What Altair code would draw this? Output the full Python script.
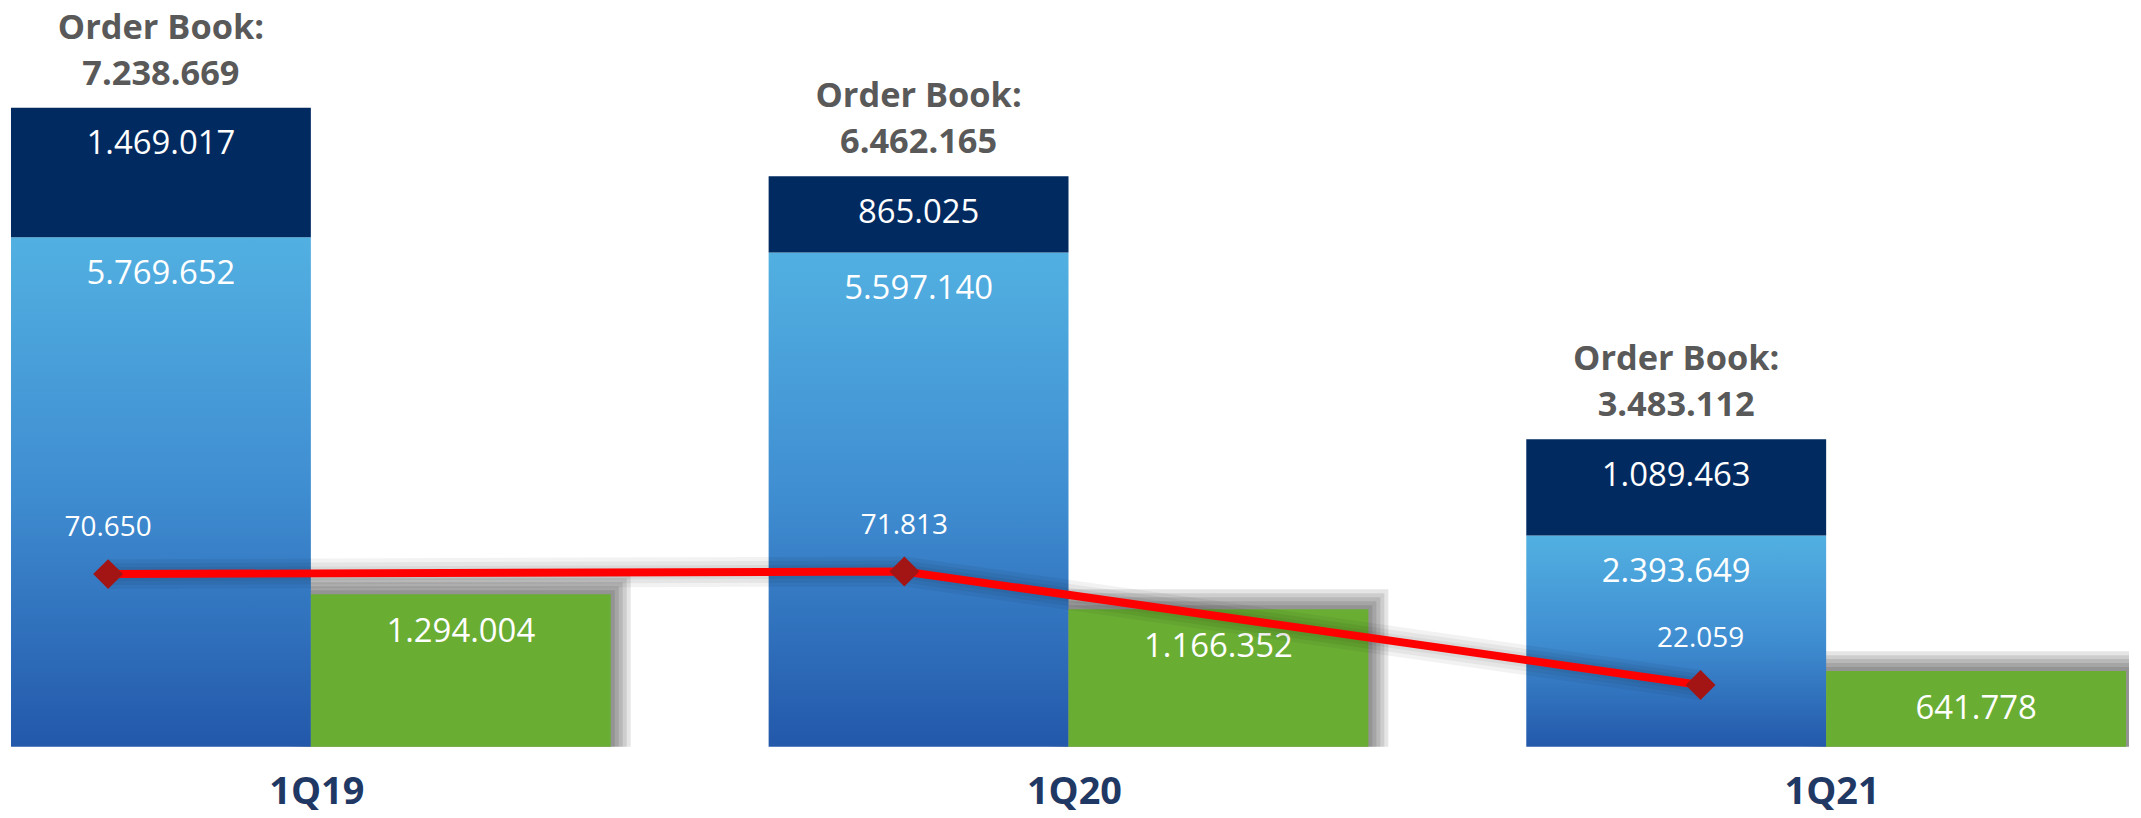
import altair as alt
import pandas as pd

# ---- data ----
quarters = ["1Q19", "1Q20", "1Q21"]
light_vals = [5769652, 5597140, 2393649]   # light-blue (bottom) part of the order book
navy_vals = [1469017, 865025, 1089463]     # navy (top) part of the order book
green_vals = [1294004, 1166352, 641778]    # green bars
line_vals = [70650, 71813, 22059]          # red line (secondary scale)


def fmt(v):
    return f"{v:,}".replace(",", ".")


df = pd.DataFrame({
    "quarter": quarters,
    "light": light_vals,
    "navy": navy_vals,
    "green": green_vals,
    "line": line_vals,
})
df["total"] = df["light"] + df["navy"]
df["light_lbl"] = df["light"].map(fmt)
df["navy_lbl"] = df["navy"].map(fmt)
df["green_lbl"] = df["green"].map(fmt)
df["line_lbl"] = df["line"].map(fmt)
df["ob_lbl"] = df["total"].map(lambda v: "Order Book:\n" + fmt(v))

FONT = "Open Sans"
W, H = 2129, 740

x_scale = alt.Scale(domain=quarters, paddingInner=0.2084, paddingOuter=0.00394)
off_scale = alt.Scale(domain=["book", "green"], paddingInner=0, paddingOuter=0)
book_y = alt.Scale(domain=[0, 8350160], nice=False, zero=False)
green_y = alt.Scale(domain=[0, 6253000], nice=False, zero=False)
line_y = alt.Scale(domain=[-5008, 318066], nice=False, zero=False)
line_x = alt.Scale(type="point", domain=quarters, padding=0.3319, align=0.1894)

x_axis = alt.Axis(title=None, labelFont=FONT, labelFontSize=38, labelFontWeight="bold",
                  labelColor="#1F3864", labelAngle=0, ticks=False, tickSize=0, domain=False,
                  grid=False, labelPadding=57, labelBaseline="alphabetic", labelOffset=6)


def X(axis=None):
    return alt.X("quarter:N", scale=x_scale, axis=axis)


base = alt.Chart(df)
book = base.transform_calculate(slot="'book'")
grn = base.transform_calculate(slot="'green'")
XO = alt.XOffset("slot:N", scale=off_scale)

light_grad = alt.Gradient(
    gradient="linear",
    stops=[alt.GradientStop(color="#52B0E1", offset=0),
           alt.GradientStop(color="#3F8DD1", offset=0.5),
           alt.GradientStop(color="#2358AA", offset=1)],
    x1=0, x2=0, y1=0, y2=1,
)

# soft shadow around the green bars
shadows = [
    grn.mark_bar(fill="#000000", fillOpacity=0.0, stroke="#000000", strokeOpacity=0.1,
                 strokeWidth=sw, clip=True).encode(
        x=X(), xOffset=XO, y=alt.Y("green:Q", scale=green_y, axis=None))
    for sw in [8, 16, 24, 32, 40]
]

light_bar = book.mark_bar(color=light_grad).encode(
    x=X(x_axis), xOffset=XO, y=alt.Y("light:Q", scale=book_y, axis=None))
navy_bar = book.mark_bar(color="#012A61").encode(
    x=X(), xOffset=XO, y=alt.Y("total:Q", scale=book_y, axis=None), y2=alt.Y2("light:Q"))
green_bar = grn.mark_bar(color="#6AAD33").encode(
    x=X(), xOffset=XO, y=alt.Y("green:Q", scale=green_y, axis=None))

txt = dict(font=FONT, fontSize=33, color="white", align="center", baseline="alphabetic")
light_txt = book.mark_text(dy=47, **txt).encode(
    x=X(), xOffset=XO, y=alt.Y("light:Q", scale=book_y, axis=None), text="light_lbl:N")
navy_txt = book.mark_text(dy=47, **txt).encode(
    x=X(), xOffset=XO, y=alt.Y("total:Q", scale=book_y, axis=None), text="navy_lbl:N")
green_txt = grn.mark_text(dy=48, **txt).encode(
    x=X(), xOffset=XO, y=alt.Y("green:Q", scale=green_y, axis=None), text="green_lbl:N")
ob_txt = book.mark_text(dy=-69, font=FONT, fontSize=34.5, fontWeight="bold", color="#595959",
                        align="center", baseline="alphabetic", lineBreak="\n", lineHeight=46).encode(
    x=X(), xOffset=XO, y=alt.Y("total:Q", scale=book_y, axis=None), text="ob_lbl:N")

line_shadows = [
    base.mark_line(color="#000000", strokeOpacity=0.05, strokeWidth=sw).encode(
        x=alt.X("quarter:N", scale=line_x, axis=None),
        y=alt.Y("line:Q", scale=line_y, axis=None))
    for sw in [14, 22, 30]
]
red_line = base.mark_line(color="#FF0000", strokeWidth=8).encode(
    x=alt.X("quarter:N", scale=line_x, axis=None),
    y=alt.Y("line:Q", scale=line_y, axis=None))
red_pts = base.mark_point(shape="diamond", size=900, filled=True, color="#A31515", opacity=1).encode(
    x=alt.X("quarter:N", scale=line_x, axis=None),
    y=alt.Y("line:Q", scale=line_y, axis=None))
line_txt = base.mark_text(dy=-38, font=FONT, fontSize=28, color="white", align="center",
                          baseline="alphabetic").encode(
    x=alt.X("quarter:N", scale=line_x, axis=None),
    y=alt.Y("line:Q", scale=line_y, axis=None), text="line_lbl:N")

layers = shadows + [light_bar, navy_bar, green_bar, light_txt, navy_txt, green_txt, ob_txt] \
    + line_shadows + [red_line, red_pts, line_txt]

chart = alt.layer(*layers).resolve_scale(
    x="independent", y="independent"
).properties(
    width=W, height=H, background="white",
    autosize=alt.AutoSizeParams(type="none"),
    padding={"top": 0, "left": 0, "right": 4, "bottom": 70},
).configure_view(stroke=None)

chart.save("out.html", embed_options={"renderer": "svg", "actions": False})
